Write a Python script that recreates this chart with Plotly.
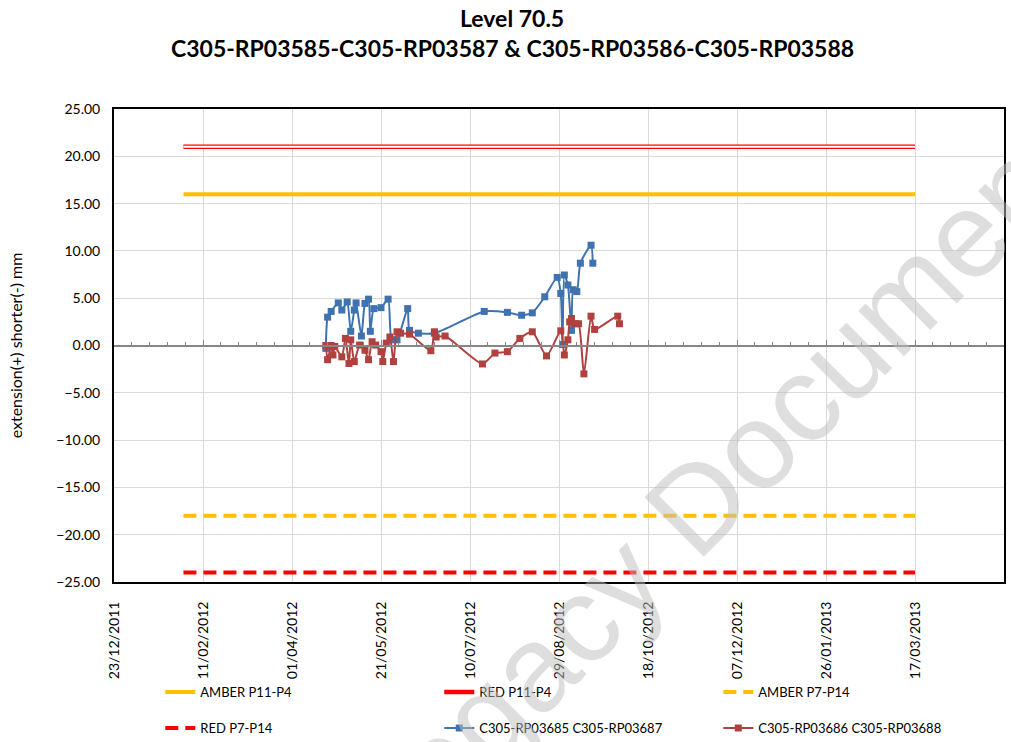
import plotly.graph_objects as go

# threshold lines (start/end dates and level)
limit_dates = ["2012-01-31", "2013-03-17"]
amber_p11_p4 = [16, 16]
red_p11_p4 = [21, 21]
amber_p7_p14 = [-18, -18]
red_p7_p14 = [-24, -24]

blue_dates = ["2012-04-20", "2012-04-21", "2012-04-23", "2012-04-27", "2012-04-29",
              "2012-05-02", "2012-05-04", "2012-05-06", "2012-05-07", "2012-05-10",
              "2012-05-12", "2012-05-14", "2012-05-15", "2012-05-17", "2012-05-21",
              "2012-05-25", "2012-05-27", "2012-05-30", "2012-06-05", "2012-06-06",
              "2012-06-11", "2012-06-20", "2012-07-18", "2012-07-31", "2012-08-08",
              "2012-08-14", "2012-08-21", "2012-08-28", "2012-08-30", "2012-08-31",
              "2012-09-01", "2012-09-03", "2012-09-05", "2012-09-06", "2012-09-08",
              "2012-09-10", "2012-09-16", "2012-09-17"]
blue_vals = [-0.3, 3.0, 3.6, 4.5, 3.75, 4.6, 1.5, 3.75, 4.5, 1.0,
             4.45, 4.9, 1.5, 3.9, 4.0, 4.9, 0.6, 0.6, 3.9, 1.6,
             1.3, 1.3, 3.6, 3.5, 3.2, 3.45, 5.15, 7.2, 5.5, 0.1,
             7.45, 6.4, 1.6, 5.9, 5.7, 8.7, 10.6, 8.7]

red_dates = ["2012-04-20", "2012-04-21", "2012-04-23", "2012-04-24", "2012-04-25",
             "2012-04-29", "2012-05-01", "2012-05-03", "2012-05-04", "2012-05-06",
             "2012-05-09", "2012-05-12", "2012-05-14", "2012-05-16", "2012-05-18",
             "2012-05-21", "2012-05-22", "2012-05-24", "2012-05-26", "2012-05-28",
             "2012-05-30", "2012-06-01", "2012-06-06", "2012-06-18", "2012-06-20",
             "2012-06-21", "2012-06-26", "2012-07-17", "2012-07-24", "2012-07-31",
             "2012-08-07", "2012-08-14", "2012-08-22", "2012-08-30", "2012-09-01",
             "2012-09-03", "2012-09-04", "2012-09-05", "2012-09-07", "2012-09-09",
             "2012-09-12", "2012-09-16", "2012-09-18", "2012-10-01", "2012-10-02"]
red_vals = [0.0, -1.5, 0.0, -1.0, -0.1, -1.2, 0.75, -1.9, 0.6, -1.7,
            0.05, -0.5, -1.5, 0.4, 0.05, -0.65, -1.7, 0.25, 0.9, -1.7,
            1.45, 1.3, 1.2, -0.55, 1.45, 0.9, 1.0, -1.95, -0.8, -0.65,
            0.75, 1.45, -1.1, 1.55, -1.0, 0.6, 2.5, 2.85, 2.3, 2.3,
            -3.0, 3.1, 1.7, 3.1, 2.3]

X_RANGE = ["2011-12-23", "2013-05-06"]
DAY_MS = 86400000
FONT = "Lato"

fig = go.Figure()

fig.add_trace(go.Scatter(x=limit_dates, y=amber_p11_p4, mode="lines", name="AMBER P11-P4",
                         line=dict(color="#FFC000", width=4), legend="legend"))
fig.add_trace(go.Scatter(x=limit_dates, y=red_p11_p4, mode="lines", name="RED P11-P4",
                         line=dict(color="#FF0000", width=4.5), legend="legend"))
fig.add_trace(go.Scatter(x=limit_dates, y=red_p11_p4, mode="lines", showlegend=False,
                         line=dict(color="white", width=2), hoverinfo="skip"))
fig.add_trace(go.Scatter(x=limit_dates, y=amber_p7_p14, mode="lines", name="AMBER P7-P14",
                         line=dict(color="#FFC000", width=4, dash="13px,7px"), legend="legend"))
fig.add_trace(go.Scatter(x=limit_dates, y=red_p7_p14, mode="lines", name="RED P7-P14",
                         line=dict(color="#FF0000", width=4, dash="13px,7px"), legend="legend2"))
fig.add_trace(go.Scatter(x=blue_dates, y=blue_vals, mode="lines+markers",
                         name="C305-RP03685 C305-RP03687",
                         line=dict(color="#3F72AF", width=2, shape="spline", smoothing=0.6),
                         marker=dict(symbol="square", size=7, color="#3F72AF"), legend="legend2"))
fig.add_trace(go.Scatter(x=red_dates, y=red_vals, mode="lines+markers",
                         name="C305-RP03686 C305-RP03688",
                         line=dict(color="#B0413E", width=2, shape="spline", smoothing=0.6),
                         marker=dict(symbol="square", size=7, color="#B0413E"), legend="legend2"))
# empty trace so the zero-axis (minor ticks) gets drawn
fig.add_trace(go.Scatter(x=X_RANGE, y=[None, None], xaxis="x2", mode="lines",
                         showlegend=False, hoverinfo="skip"))

legend_style = dict(orientation="h", xanchor="left", yanchor="top", x=0.052,
                    yref="container", entrywidth=234, entrywidthmode="pixels",
                    bgcolor="rgba(0,0,0,0)",
                    font=dict(family=FONT, size=13, color="black"))

fig.update_layout(
    width=1011, height=742,
    margin=dict(l=114, r=7, t=109, b=160, autoexpand=False),
    paper_bgcolor="white", plot_bgcolor="white",
    font=dict(family=FONT, size=14, color="black"),
    legend=dict(y=1 - 677 / 742, **legend_style),
    legend2=dict(y=1 - 713 / 742, **legend_style),
    xaxis=dict(type="date", range=X_RANGE, tick0=X_RANGE[0], dtick=50 * DAY_MS,
               tickformat="%d/%m/%Y", tickangle=-90, ticks="", automargin=False,
               showgrid=True, gridcolor="#D9D9D9", gridwidth=1,
               showline=True, linecolor="black", linewidth=2, mirror=True,
               zeroline=False, ticklabelstandoff=12, tickfont=dict(size=14)),
    xaxis2=dict(type="date", range=X_RANGE, overlaying="x", anchor="free", position=0.5,
                side="bottom", showgrid=False, showticklabels=False, zeroline=False,
                showline=True, linecolor="#868686", linewidth=2, automargin=False,
                tick0=X_RANGE[0], dtick=50 * DAY_MS, ticks="inside", ticklen=5,
                tickcolor="#868686", tickwidth=1,
                minor=dict(dtick=10 * DAY_MS, tick0=X_RANGE[0], ticks="inside",
                           ticklen=3, tickcolor="#868686", tickwidth=1)),
    yaxis=dict(range=[-25, 25], dtick=5, tickformat=".2f", automargin=False,
               showgrid=True, gridcolor="#D9D9D9", gridwidth=1,
               showline=True, linecolor="black", linewidth=2, mirror=True,
               zeroline=True, zerolinecolor="#868686", zerolinewidth=2,
               ticks="", ticklabelstandoff=9, tickfont=dict(size=14),
               title=dict(text="extension(+) shorter(-) mm", font=dict(size=16), standoff=30)),
    showlegend=True,
)

# two-line bold title
TITLE_X = (512 - 114) / 890
fig.add_annotation(text="<b>Level 70.5</b>", xref="paper", yref="paper",
                   x=TITLE_X, y=(582 - 18) / 473, xanchor="center", yanchor="middle",
                   showarrow=False, font=dict(family=FONT, size=23, color="black"))
fig.add_annotation(text="<b>C305-RP03585-C305-RP03587 & C305-RP03586-C305-RP03588</b>",
                   xref="paper", yref="paper", x=TITLE_X, y=(582 - 48) / 473,
                   xanchor="center", yanchor="middle", showarrow=False,
                   font=dict(family=FONT, size=23, color="black"))

# watermark
fig.add_annotation(text="Legacy Document", xref="paper", yref="paper",
                   x=(712 - 114) / 890, y=(582 - 489) / 473,
                   xanchor="center", yanchor="middle", showarrow=False, textangle=-45,
                   font=dict(family="Liberation Sans", size=122, color="rgba(190,190,190,0.5)"))

fig.write_html("out.html", config={"displayModeBar": False},
               post_script="document.body.style.margin='0px';")
